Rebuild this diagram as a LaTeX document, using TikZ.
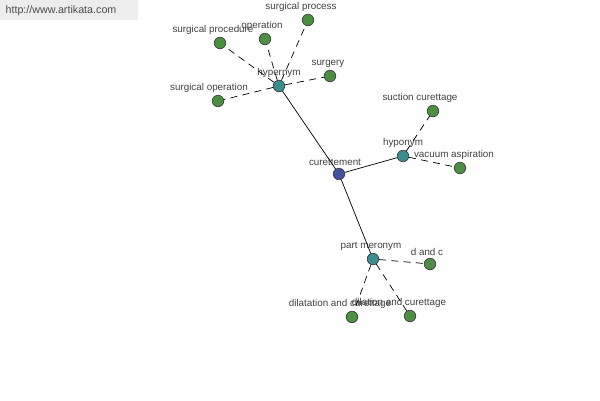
\documentclass[tikz,border=0pt]{standalone}
\usepackage{fontspec}
\setmainfont{Liberation Sans}
\definecolor{rootblue}{HTML}{4250A0}
\definecolor{relteal}{HTML}{3A8E8E}
\definecolor{leafgreen}{HTML}{4A9040}
\begin{document}
\begin{tikzpicture}[x=0.02cm, y=-0.02cm, font=\fontsize{5.6}{6}\selectfont]
        \tikzset{
            dot/.style={circle, draw=black!75, thin, inner sep=0pt, minimum size=0.23cm},
            rootdot/.style={dot, fill=rootblue},
            reldot/.style={dot, fill=relteal},
            leafdot/.style={dot, fill=leafgreen},
            lbl/.style={inner sep=1pt, text=black!75},
            rel/.style={black, thin},
            syn/.style={black, thin, dash pattern=on 4pt off 3pt}
        }

        % -----------------------
        % Frame and site link
        % -----------------------
        \useasboundingbox (0,0) rectangle (600,400);
        \fill[white] (0,0) rectangle (600,400);
        \fill[black!7] (0,0) rectangle (138,20);
        \node[text=black!70, font=\fontsize{6.1}{7}\selectfont] (site) at (61,11) {http://www.artikata.com};

        % -----------------------
        % Centre and relation nodes
        % -----------------------
        \node[rootdot, label={[lbl, xshift=-0.08cm]above:curettement}] (cur) at (339,174) {};
        \node[reldot, label={[lbl]above:hypernym}] (hyper) at (279,86) {};
        \node[reldot, label={[lbl]above:hyponym}] (hypo) at (403,156) {};
        \node[reldot, label={[lbl, xshift=-0.04cm]above:part meronym}] (mero) at (373,259) {};

        % -----------------------
        % Hypernyms
        % -----------------------
        \node[leafdot, label={[lbl, xshift=-0.14cm]above:surgical process}] (sprocess) at (308,20) {};
        \node[leafdot, label={[lbl, xshift=-0.06cm]above:operation}] (oper) at (265,39) {};
        \node[leafdot, label={[lbl, xshift=-0.14cm]above:surgical procedure}] (sproc) at (220,43) {};
        \node[leafdot, label={[lbl, xshift=-0.04cm]above:surgery}] (surg) at (330,76) {};
        \node[leafdot, label={[lbl, xshift=-0.18cm]above:surgical operation}] (soper) at (218,101) {};

        % -----------------------
        % Hyponyms
        % -----------------------
        \node[leafdot, label={[lbl, xshift=-0.26cm]above:suction curettage}] (suction) at (433,111) {};
        \node[leafdot, label={[lbl, xshift=-0.12cm]above:vacuum aspiration}] (vacuum) at (460,168) {};

        % -----------------------
        % Part meronyms
        % -----------------------
        \node[leafdot, label={[lbl, xshift=-0.06cm]above:d and c}] (dandc) at (430,264) {};
        \node[leafdot, label={[lbl, xshift=-0.24cm]above:dilatation and curettage}] (dilat) at (352,317) {};
        \node[leafdot, label={[lbl, xshift=-0.22cm]above:dilation and curettage}] (dila) at (410,316) {};

        % -----------------------
        % Links
        % -----------------------
        \draw[rel] (cur) -- (hyper);
        \draw[rel] (cur) -- (hypo);
        \draw[rel] (cur) -- (mero);

        \draw[syn] (hyper) -- (sprocess);
        \draw[syn] (hyper) -- (oper);
        \draw[syn] (hyper) -- (sproc);
        \draw[syn] (hyper) -- (surg);
        \draw[syn] (hyper) -- (soper);

        \draw[syn] (hypo) -- (suction);
        \draw[syn] (hypo) -- (vacuum);

        \draw[syn] (mero) -- (dandc);
        \draw[syn] (mero) -- (dilat);
        \draw[syn] (mero) -- (dila);

\end{tikzpicture}
\end{document}
